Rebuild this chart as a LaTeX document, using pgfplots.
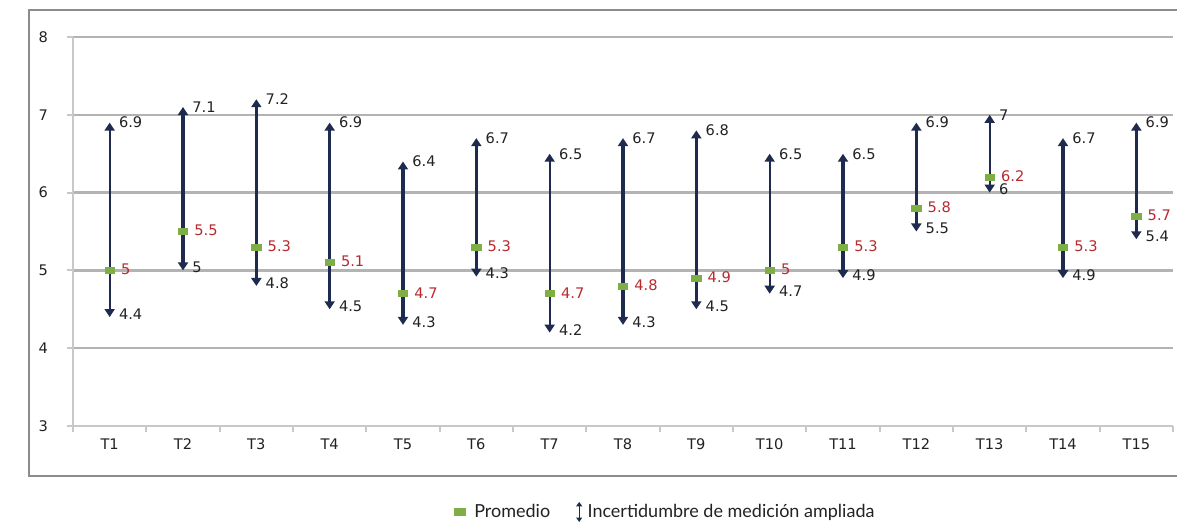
\documentclass[border=0pt]{standalone}
\usepackage{fontspec}
\setmainfont{DejaVu Sans}
\newfontfamily\legfont{Lato}
\usepackage{pgfplots}
\usepackage{pgfplotstable}
\pgfplotsset{compat=1.18}
\usetikzlibrary{arrows.meta}

\definecolor{navy}{HTML}{1F2A4F}
\definecolor{meangreen}{HTML}{7FAE45}
\definecolor{labred}{HTML}{B8292F}
\definecolor{gridgray}{HTML}{B3B3B3}
\definecolor{axgray}{HTML}{C8C8C8}
\definecolor{framegray}{HTML}{8C8C8C}
\definecolor{txt}{HTML}{222222}

% lo = drawn lower end, lolab = printed lower value
\pgfplotstableread{
x  mean lo   hi  mlab lolab hilab
1  5.0  4.4  6.9 5    4.4   6.9
2  5.5  5.0  7.1 5.5  5     7.1
3  5.3  4.8  7.2 5.3  4.8   7.2
4  5.1  4.5  6.9 5.1  4.5   6.9
5  4.7  4.3  6.4 4.7  4.3   6.4
6  5.3  4.92 6.7 5.3  4.3   6.7
7  4.7  4.2  6.5 4.7  4.2   6.5
8  4.8  4.3  6.7 4.8  4.3   6.7
9  4.9  4.5  6.8 4.9  4.5   6.8
10 5.0  4.7  6.5 5    4.7   6.5
11 5.3  4.9  6.5 5.3  4.9   6.5
12 5.8  5.5  6.9 5.8  5.5   6.9
13 6.2  6.0  7.0 6.2  6     7
14 5.3  4.9  6.7 5.3  4.9   6.7
15 5.7  5.4  6.9 5.7  5.4   6.9
}\data

\tikzset{
  arr/.style={navy, {Triangle[width=5pt,length=4pt]}-{Triangle[width=5pt,length=4pt]}},
  thin arr/.style={arr, line width=0.9pt},
  thick arr/.style={arr, line width=1.6pt},
  lab/.style={anchor=west, inner sep=1pt, font=\fontsize{7.3}{8}\selectfont},
}

\begin{document}
\begin{tikzpicture}
\begin{axis}[
  scale only axis,
  width=550pt, height=194.5pt,
  xmin=0.5, xmax=15.5, ymin=3, ymax=8,
  axis x line*=bottom, axis y line*=left,
  axis line style={axgray, line width=1pt, -},
  xtick={1,...,15},
  xticklabels={T1,T2,T3,T4,T5,T6,T7,T8,T9,T10,T11,T12,T13,T14,T15},
  minor xtick={0.5,1.5,...,15.5},
  major x tick style={draw=none},
  minor x tick style={axgray, line width=1pt},
  ytick={3,...,8},
  y tick style={axgray, line width=1pt},
  tick align=outside,
  major tick length=3pt, minor tick length=3pt,
  ymajorgrids,
  grid style={gridgray, line width=1.25pt},
  tick label style={font=\fontsize{7.3}{8}\selectfont, text=txt},
  yticklabel style={xshift=-6pt},
  /pgf/number format/assume math mode=true,
  clip=false,
  legend style={at={(0.5395,-0.221)}, anchor=center, draw=none, fill=none,
    legend columns=2, font=\legfont\fontsize{9}{10}\selectfont, text=txt,
    /tikz/every even column/.append style={column sep=11pt}},
]
\addplot[thin arr, forget plot]  coordinates {(1,4.4) (1,6.9)};
\addplot[thick arr, forget plot] coordinates {(2,5.0) (2,7.1)};
\addplot[thick arr, forget plot] coordinates {(3,4.8) (3,7.2)};
\addplot[thick arr, forget plot] coordinates {(4,4.5) (4,6.9)};
\addplot[thick arr, forget plot] coordinates {(5,4.3) (5,6.4)};
\addplot[thick arr, forget plot] coordinates {(6,4.92) (6,6.7)};
\addplot[thin arr, forget plot]  coordinates {(7,4.2) (7,6.5)};
\addplot[thick arr, forget plot] coordinates {(8,4.3) (8,6.7)};
\addplot[thick arr, forget plot] coordinates {(9,4.5) (9,6.8)};
\addplot[thin arr, forget plot]  coordinates {(10,4.7) (10,6.5)};
\addplot[thick arr, forget plot] coordinates {(11,4.9) (11,6.5)};
\addplot[thick arr, forget plot] coordinates {(12,5.5) (12,6.9)};
\addplot[thin arr, forget plot]  coordinates {(13,6.0) (13,7.0)};
\addplot[thick arr, forget plot] coordinates {(14,4.9) (14,6.7)};
\addplot[thick arr, forget plot] coordinates {(15,5.4) (15,6.9)};

\addplot[only marks, mark=square*, mark size=2.3pt,
  mark options={yscale=0.65, fill=meangreen, draw=meangreen},
  legend image code/.code={
    \fill[meangreen] (0pt,-1.75pt) rectangle (5.5pt,1.75pt);
    \path (7.5pt,0pt);}]
  table[x=x, y=mean]{\data};
\addlegendentry{Promedio}
\addlegendimage{legend image code/.code={
  \draw[navy, line width=0.6pt, {Triangle[width=3pt,length=2.2pt]}-{Triangle[width=3pt,length=2.2pt]}]
    (0pt,-5pt) -- (0pt,5pt);
  \path (2pt,0pt);}}
\addlegendentry{Incertidumbre de medición ampliada}

\addplot[draw=none, mark=none, forget plot, nodes near coords, point meta=explicit symbolic,
  nodes near coords style={lab, xshift=3.5pt, yshift=0pt, text=txt}]
  table[x=x, y=hi, meta=hilab]{\data};
\addplot[draw=none, mark=none, forget plot, nodes near coords, point meta=explicit symbolic,
  nodes near coords style={lab, xshift=3.5pt, yshift=1.5pt, text=txt}]
  table[x=x, y=lo, meta=lolab]{\data};
\addplot[draw=none, mark=none, forget plot, nodes near coords, point meta=explicit symbolic,
  nodes near coords style={lab, xshift=4.5pt, yshift=0.5pt, text=labred}]
  table[x=x, y=mean, meta=mlab]{\data};
\end{axis}
\draw[framegray, line width=0.7pt] (560pt,208pt) -- (-22pt,208pt) -- (-22pt,-25pt) -- (560pt,-25pt);
\pgfresetboundingbox
\path[use as bounding box] (-36.5pt,-49pt) rectangle (552pt,213pt);
\end{tikzpicture}
\end{document}
